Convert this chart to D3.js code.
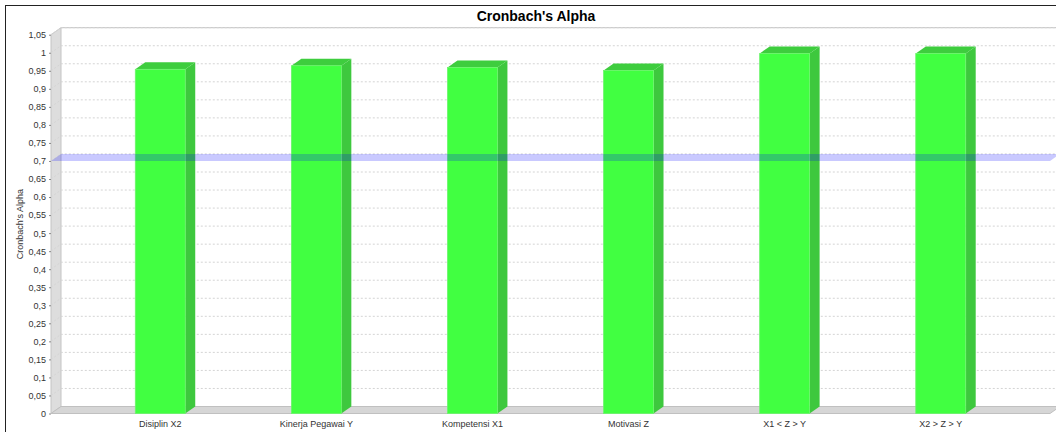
<!DOCTYPE html>
<html>
<head>
<meta charset="utf-8">
<script src="https://cdn.jsdelivr.net/npm/d3@7"></script>
<style>
  html, body { margin: 0; padding: 0; background: #fff; }
  svg { display: block; }
  text { font-family: "Liberation Sans", Arial, sans-serif; }
</style>
</head>
<body>
<svg id="chart" width="1056" height="432"></svg>
<script>
// ---- data ----
const categories = ["Disiplin X2", "Kinerja Pegawai Y", "Kompetensi X1", "Motivasi Z", "X1 < Z > Y", "X2 > Z > Y"];
const values = [0.954, 0.964, 0.959, 0.951, 0.998, 0.998];
const yTicks = [0, 0.05, 0.1, 0.15, 0.2, 0.25, 0.3, 0.35, 0.4, 0.45, 0.5, 0.55, 0.6, 0.65, 0.7, 0.75, 0.8, 0.85, 0.9, 0.95, 1, 1.05];
const markerValue = 0.7;
const title = "Cronbach's Alpha";
const yLabel = "Cronbach's Alpha";

// ---- layout ----
const svg = d3.select("#chart");
const DX = 10, DY = 7;                 // 3D offset
const front = { left: 51, right: 1050, top: 34.7, bottom: 413.5 };

const y = d3.scaleLinear().domain([0, 1.05]).range([front.bottom, front.top]);
const x = d3.scaleBand().domain(categories).range([front.left, front.right])
  .paddingInner(0.68).paddingOuter(0.54);

const fmt = v => String(+v.toFixed(2)).replace(".", ",");

// chart border
svg.append("rect").attr("x", 5.5).attr("y", 5.5).attr("width", 1070).attr("height", 440)
  .attr("fill", "none").attr("stroke", "#222").attr("stroke-width", 1);

// title
svg.append("text").attr("x", 536).attr("y", 21).attr("text-anchor", "middle")
  .attr("font-size", 14).attr("font-weight", "bold").attr("fill", "#000").text(title);

// back plane outline
svg.append("path")
  .attr("d", `M${front.left + DX},${front.top - DY}H${front.right + DX}`)
  .attr("stroke", "#c0c0c0").attr("fill", "none");

// left wall
svg.append("path")
  .attr("d", `M${front.left},${front.top}L${front.left + DX},${front.top - DY}L${front.left + DX},${front.bottom - DY}L${front.left},${front.bottom}Z`)
  .attr("fill", "#dddddd").attr("stroke", "#c4c4c4").attr("stroke-width", 1);

// gridlines (wall + back plane)
svg.append("g").selectAll("path").data(yTicks.filter(t => t > 0)).join("path")
  .attr("d", t => `M${front.left},${y(t)}L${front.left + DX},${y(t) - DY}H${front.right + DX}`)
  .attr("fill", "none").attr("stroke", "#d4d4d4").attr("stroke-width", 1)
  .attr("stroke-dasharray", "2,2");

// floor
svg.append("path")
  .attr("d", `M${front.left},${front.bottom}L${front.left + DX},${front.bottom - DY}H${front.right + DX}L${front.right},${front.bottom}Z`)
  .attr("fill", "#d6d6d6").attr("stroke", "#c0c0c0").attr("stroke-width", 1);

// bars
const bars = svg.append("g").selectAll("g").data(categories.map((c, i) => ({ c, v: values[i] }))).join("g");
bars.append("path")  // side
  .attr("d", d => {
    const x1 = x(d.c) + x.bandwidth(), t = y(d.v);
    return `M${x1},${t}L${x1 + DX},${t - DY}L${x1 + DX},${front.bottom - DY}L${x1},${front.bottom}Z`;
  })
  .attr("fill", "#3ec83e");
bars.append("path")  // top
  .attr("d", d => {
    const x0 = x(d.c), x1 = x0 + x.bandwidth(), t = y(d.v);
    return `M${x0},${t}L${x0 + DX},${t - DY}L${x1 + DX},${t - DY}L${x1},${t}Z`;
  })
  .attr("fill", "#3ecd3e");
bars.append("rect")  // front
  .attr("x", d => x(d.c)).attr("y", d => y(d.v))
  .attr("width", x.bandwidth()).attr("height", d => front.bottom - y(d.v))
  .attr("fill", "#41ff41").attr("stroke", "#6cf56c").attr("stroke-width", 0.8);

// value marker (3D plane)
const my = y(markerValue);
svg.append("path")
  .attr("d", `M${front.left},${my}L${front.left + DX},${my - DY}H${front.right + DX}L${front.right},${my}Z`)
  .attr("fill", "rgba(0,0,255,0.21)");

// y axis
const yAxis = d3.axisLeft(y).tickValues(yTicks).tickFormat(fmt).tickSize(2).tickSizeOuter(0).tickPadding(3);
const ya = svg.append("g").attr("transform", `translate(${front.left},0)`).call(yAxis);
ya.select(".domain").remove();
ya.selectAll(".tick line").attr("stroke", "#888");
ya.selectAll(".tick text").attr("font-size", 9).attr("fill", "#333")
  .attr("font-family", "'Liberation Sans', Arial, sans-serif");

// y label
svg.append("text").attr("transform", `translate(23,${(front.top + front.bottom) / 2}) rotate(-90)`)
  .attr("text-anchor", "middle").attr("font-size", 9).attr("fill", "#333").text(yLabel);

// x axis labels
const xAxis = d3.axisBottom(x).tickSize(0).tickPadding(7);
const xa = svg.append("g").attr("transform", `translate(0,${front.bottom})`).call(xAxis);
xa.select(".domain").remove();
xa.selectAll(".tick text").attr("font-size", 9).attr("fill", "#333")
  .attr("font-family", "'Liberation Sans', Arial, sans-serif");
</script>
</body>
</html>
